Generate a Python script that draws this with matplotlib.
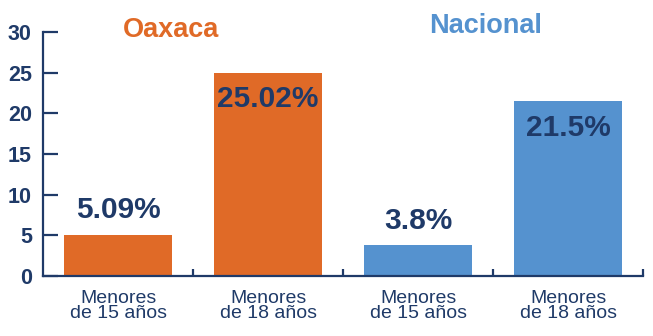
import matplotlib
matplotlib.use("Agg")
import matplotlib.pyplot as plt

categories = ["Menores\nde 15 años", "Menores\nde 18 años", "Menores\nde 15 años", "Menores\nde 18 años"]
values = [5.09, 25.02, 3.8, 21.5]
value_labels = ["5.09%", "25.02%", "3.8%", "21.5%"]
groups = ["Oaxaca", "Nacional"]
y_ticks = [0, 5, 10, 15, 20, 25, 30]

ORANGE = "#E06A27"
BLUE = "#5592CF"
NAVY = "#1F3A68"
bar_colors = [ORANGE, ORANGE, BLUE, BLUE]
group_colors = [ORANGE, BLUE]

plt.rcParams["font.family"] = ["Liberation Sans", "DejaVu Sans"]

fig = plt.figure(figsize=(6.53, 3.36), dpi=100)
ax = fig.add_axes([43 / 653, 60 / 336, 600 / 653, 244 / 336])

x = list(range(len(values)))
ax.bar(x, values, width=0.72, color=bar_colors, zorder=2)

ax.set_xlim(-0.5, 3.5)
ax.set_ylim(0, 30)

# value labels: above short bars, inside tall bars
for xi, v, lab in zip(x, values, value_labels):
    y = v - 3.3 if v > 15 else v + 3.0
    ax.text(xi, y, lab, ha="center", va="center", fontsize=21.5,
            fontweight="bold", color=NAVY, zorder=3)

# group titles
ax.text(0.35, 1.01, groups[0], transform=ax.get_xaxis_transform(), ha="center", va="center",
        fontsize=19.5, fontweight="bold", color=group_colors[0], clip_on=False)
ax.text(2.45, 1.025, groups[1], transform=ax.get_xaxis_transform(), ha="center", va="center",
        fontsize=19.5, fontweight="bold", color=group_colors[1], clip_on=False)

for side in ["top", "right"]:
    ax.spines[side].set_visible(False)
for side in ["left", "bottom"]:
    ax.spines[side].set_color(NAVY)
    ax.spines[side].set_linewidth(1.6)

ax.set_yticks(y_ticks)
ax.set_yticklabels([str(t) for t in y_ticks], fontsize=15.5, fontweight="bold", color=NAVY)
ax.tick_params(axis="y", direction="in", length=11, width=1.6, color=NAVY, pad=8)

ax.set_xticks(x)
ax.set_xticklabels(categories, fontsize=14, color=NAVY, linespacing=0.85)
ax.tick_params(axis="x", which="major", length=0, pad=10)
ax.set_xticks([0.5, 1.5, 2.5, 3.5], minor=True)
ax.tick_params(axis="x", which="minor", direction="in", length=5, width=1.6, color=NAVY)

fig.savefig("out.png", dpi=100, facecolor="white")
